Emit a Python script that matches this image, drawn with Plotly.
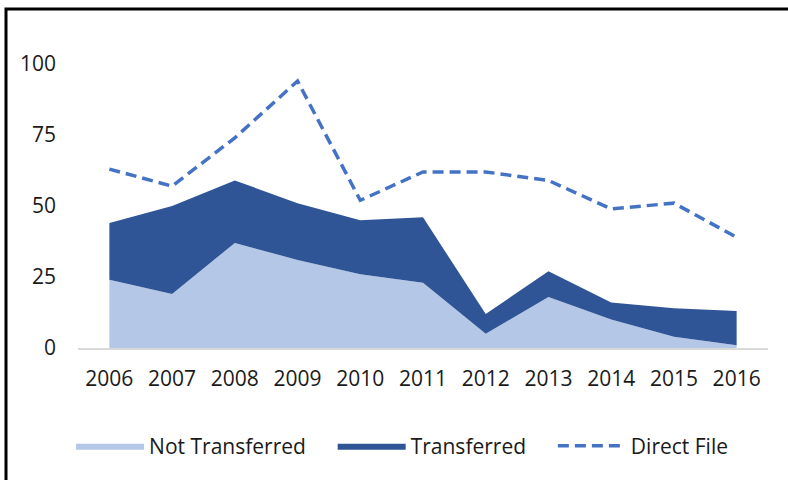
import plotly.graph_objects as go

years = ["2006", "2007", "2008", "2009", "2010", "2011", "2012", "2013", "2014", "2015", "2016"]
not_transferred = [24, 19, 37, 31, 26, 23, 5, 18, 10, 4, 1]
transferred = [20, 31, 22, 20, 19, 23, 7, 9, 6, 10, 12]
direct_file = [63, 57, 74, 94, 52, 62, 62, 59, 49, 51, 39]
y_ticks = [0, 25, 50, 75, 100]

FONT = "Open Sans"
PAD = "\u00a0" * 4  # extra spacing between legend entries

fig = go.Figure()
fig.add_trace(go.Scatter(
    x=years, y=not_transferred, name="Not Transferred" + PAD, stackgroup="one",
    mode="lines", line=dict(width=0, color="#B4C7E7"), fillcolor="#B4C7E7",
))
fig.add_trace(go.Scatter(
    x=years, y=transferred, name="Transferred" + PAD, stackgroup="one",
    mode="lines", line=dict(width=0, color="#2F5597"), fillcolor="#2F5597",
))
fig.add_trace(go.Scatter(
    x=years, y=direct_file, name="Direct File", mode="lines",
    line=dict(color="#4472C4", width=3.5, dash="11px,6px"),
))

fig.update_layout(
    width=788, height=480,
    margin=dict(l=78, r=20, t=64, b=132),
    paper_bgcolor="white", plot_bgcolor="white",
    font=dict(family=FONT, size=21, color="#1a1a1a"),
    showlegend=True,
    legend=dict(orientation="h", x=-0.01, xanchor="left", y=-0.345, yanchor="middle",
                font=dict(size=21), traceorder="normal", itemwidth=68,
                bgcolor="rgba(0,0,0,0)"),
    xaxis=dict(type="category", range=[-0.5, 10.5], showgrid=False, zeroline=False,
               showline=True, linecolor="#d9d9d9", linewidth=2, ticks="",
               ticklabelstandoff=11, tickfont=dict(size=21)),
    yaxis=dict(range=[0, 100], tickvals=y_ticks, showgrid=False, zeroline=False,
               showline=False, ticks="", ticklabelstandoff=21, tickfont=dict(size=21)),
    shapes=[dict(type="rect", xref="paper", yref="paper",
                 x0=(6 - 78) / 690, x1=1.2, y0=-0.8, y1=(348 - 9) / 284,
                 line=dict(color="black", width=3), fillcolor="rgba(0,0,0,0)", layer="above")],
)

fig.write_html("out.html", config={"displayModeBar": False},
               post_script="document.body.style.margin='0';")
